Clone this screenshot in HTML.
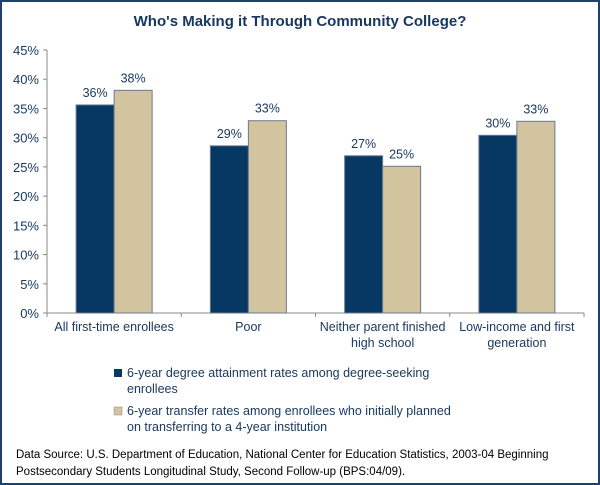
<!DOCTYPE html>
<html><head><meta charset="utf-8"><style>
body{margin:0;width:600px;height:485px;background:#fff;font-family:"Liberation Sans",sans-serif;overflow:hidden}
#frame{position:absolute;left:0;top:0;width:596px;height:481px;border:2px solid #1f3f6e}
text{font-family:"Liberation Sans",sans-serif}
</style></head><body>
<div id="frame"></div>
<svg id="c" width="600" height="485" style="position:absolute;left:0;top:0">
<text x="300" y="26" text-anchor="middle" font-size="15" font-weight="bold" fill="#17375e">Who's Making it Through Community College?</text>
<g id="axes"></g><g id="bars"></g>
<g>
<rect x="114" y="369" width="8" height="8" fill="#073763"/>
<text x="127" y="377" font-size="12.5" fill="#17375e">6-year degree attainment rates among degree-seeking</text>
<text x="127" y="393" font-size="12.5" fill="#17375e">enrollees</text>
<rect x="114" y="407" width="8" height="8" fill="#d3c4a0" stroke="#888" stroke-width="0.5"/>
<text x="127" y="415" font-size="12.5" fill="#17375e">6-year transfer rates among enrollees who initially planned</text>
<text x="127" y="431" font-size="12.5" fill="#17375e">on transferring to a 4-year institution</text>
</g>
<text x="16" y="458" font-size="11.5" fill="#000">Data Source: U.S. Department of Education, National Center for Education Statistics, 2003-04 Beginning</text>
<text x="16" y="475" font-size="11.5" fill="#000">Postsecondary Students Longitudinal Study, Second Follow-up (BPS:04/09).</text>
</svg>
<script>
const categories=[["All first-time enrollees"],["Poor"],["Neither parent finished","high school"],["Low-income and first","generation"]];
const degreeRates=[35.6,28.6,26.9,30.4];
const transferRates=[38.1,32.9,25.1,32.8];
const degreeLabels=["36%","29%","27%","30%"];
const transferLabels=["38%","33%","25%","33%"];
const yTicks=[0,5,10,15,20,25,30,35,40,45];
const NS="http://www.w3.org/2000/svg";
const x0=47,x1=584,y0=313,yTop=50,yMax=45;
const y=v=>y0-(v/yMax)*(y0-yTop);
const gw=(x1-x0)/categories.length;
const ax=document.getElementById('axes'),bg=document.getElementById('bars');
function mk(tag,at,p){const e=document.createElementNS(NS,tag);for(const k in at)e.setAttribute(k,at[k]);p.appendChild(e);return e;}
let l=mk('line',{x1:x0,y1:yTop,x2:x0,y2:y0,stroke:'#888'},ax);


l=mk('line',{x1:x0,y1:y0,x2:x1,y2:y0,stroke:'#888'},ax);


yTicks.forEach(t=>{
 mk('line',{x1:x0-4,y1:y(t),x2:x0,y2:y(t),stroke:'#888'},ax);
 const tx=mk('text',{x:x0-8,y:y(t)+5,'text-anchor':'end','font-size':13,fill:'#17375e'},ax);
 tx.textContent=t+'%';
 
 
});
for(let i=0;i<=categories.length;i++)mk('line',{x1:x0+i*gw,y1:y0,x2:x0+i*gw,y2:y0+4,stroke:'#888'},ax);
const bw=38;
categories.forEach((c,i)=>{
 const cx=x0+gw*(i+0.5);
 c.forEach((s,j)=>{const tx=mk('text',{x:cx,y:y0+18+j*16,'text-anchor':'middle','font-size':12.5,fill:'#17375e'},ax);tx.textContent=s;
 
 });
 [[degreeRates,degreeLabels,'#073763',cx-bw],[transferRates,transferLabels,'#d3c4a0',cx]].forEach((s,k)=>{
  const v=s[0][i];
  const r=mk('rect',{x:s[3],y:y(v),width:bw,height:y0-y(v),fill:s[2],stroke:'#6a7a90','stroke-width':1},bg);
  
  
  const t=mk('text',{x:s[3]+bw/2,y:y(v)-8,'text-anchor':'middle','font-size':12.5,fill:'#17375e'},bg);
  t.textContent=s[1][i];
  
  
 });
});
</script>
</body></html>
